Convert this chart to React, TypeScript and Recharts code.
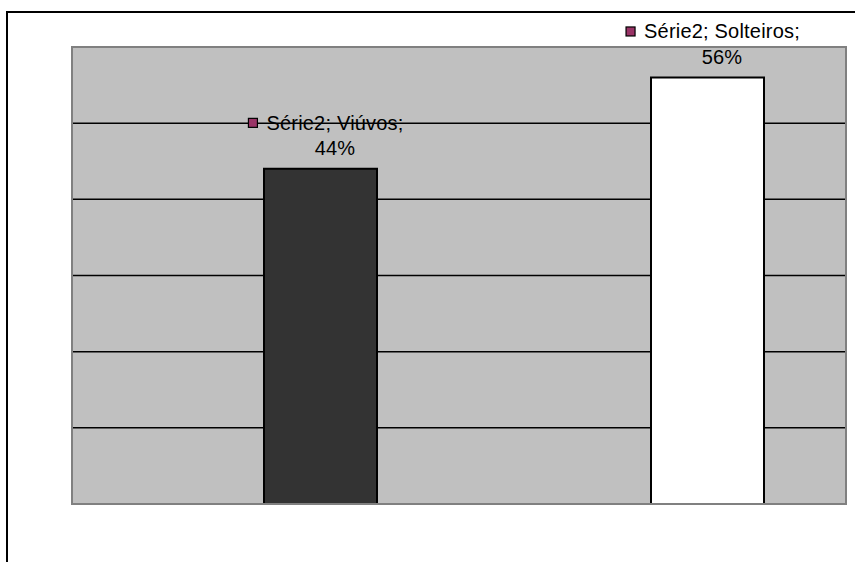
import React, { useLayoutEffect, useRef, useState } from "react";
import { BarChart, Bar, XAxis, YAxis, CartesianGrid, Cell, LabelList } from "recharts";

const categories = ["Viúvos", "Solteiros"];
const values = [44, 56];
const seriesName = "Série2";
const barColors = ["#333333", "#ffffff"];
const yTicks = [0, 10, 20, 30, 40, 50, 60];

const data = categories.map((c, i) => ({ name: c, value: values[i] }));

const FONT = "'Liberation Sans', Arial, sans-serif";
const FS = 20;
const LS = 0.2;

const DataLabel = (props: any) => {
  const { x, y, width, index } = props;
  const cx = x + width / 2 + 14.5;
  const name = categories[index];
  const v = values[index];
  const line1 = `${seriesName}; ${name};`;
  const ref = useRef<SVGTextElement>(null);
  const [w, setW] = useState(line1.length * 10);
  useLayoutEffect(() => {
    if (ref.current) setW(ref.current.getComputedTextLength());
  }, [line1]);
  const y1 = y - 46;
  const y2 = y - 20.5;
  return (
    <g>
      <rect
        x={cx - w / 2 - 18}
        y={y1 - 4.5}
        width={9}
        height={9}
        fill="#993366"
        stroke="#000"
        strokeWidth={1.2}
      />
      <text
        ref={ref}
        x={cx}
        y={y1}
        textAnchor="middle"
        dominantBaseline="central"
        fontFamily={FONT}
        fontSize={FS}
        letterSpacing={LS}
        fill="#000"
      >
        {line1}
      </text>
      <text
        x={cx}
        y={y2}
        textAnchor="middle"
        dominantBaseline="central"
        fontFamily={FONT}
        fontSize={FS}
        letterSpacing={LS}
        fill="#000"
      >
        {`${v}%`}
      </text>
    </g>
  );
};

export default function App() {
  return (
    <div style={{ position: "absolute", left: 0, top: 0, width: 855, height: 562, background: "#fff" }}>
      <div
        style={{
          position: "absolute",
          left: 6,
          top: 11,
          width: 849,
          height: 551,
          borderLeft: "2px solid #000",
          borderTop: "2px solid #000",
          boxSizing: "border-box",
        }}
      />
      <div style={{ position: "absolute", left: 0, top: 0 }}>
        <BarChart
          width={855}
          height={562}
          data={data}
          margin={{ top: 47, right: 9, bottom: 58, left: 72 }}
          barCategoryGap={0}
        >
          <CartesianGrid
            horizontal={true}
            vertical={false}
            fill="#c0c0c0"
            stroke="#000"
            strokeWidth={1.5}
            horizontalValues={[10, 20, 30, 40, 50]}
          />
          <XAxis dataKey="name" hide padding={{ left: 55, right: -55 }} />
          <YAxis hide domain={[0, 60]} ticks={yTicks} />
          <Bar dataKey="value" barSize={113} stroke="#000" strokeWidth={2} isAnimationActive={false}>
            {data.map((d, i) => (
              <Cell key={d.name} fill={barColors[i]} />
            ))}
          </Bar>
        </BarChart>
      </div>
      <svg style={{ position: "absolute", left: 0, top: 0, pointerEvents: "none" }} width={855} height={562}>
        <rect x={72} y={47} width={774} height={457} fill="none" stroke="#808080" strokeWidth={2} />
      </svg>
      <div style={{ position: "absolute", left: 0, top: 0, pointerEvents: "none" }}>
        <BarChart
          width={855}
          height={562}
          data={data}
          margin={{ top: 47, right: 9, bottom: 58, left: 72 }}
          barCategoryGap={0}
        >
          <XAxis dataKey="name" hide padding={{ left: 55, right: -55 }} />
          <YAxis hide domain={[0, 60]} ticks={yTicks} />
          <Bar dataKey="value" barSize={113} fill="none" stroke="none" isAnimationActive={false}>
            <LabelList dataKey="value" content={<DataLabel />} />
          </Bar>
        </BarChart>
      </div>
    </div>
  );
}
